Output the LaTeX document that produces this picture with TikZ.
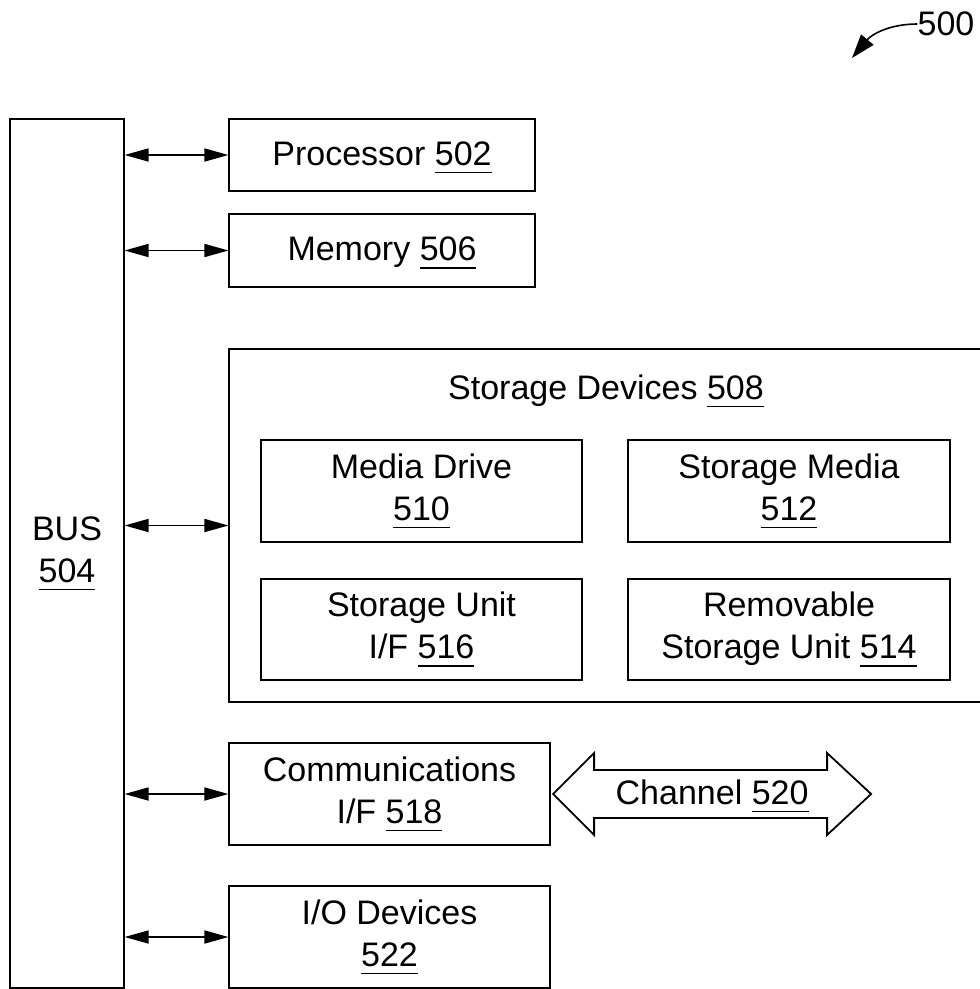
\documentclass[tikz,border=0pt]{standalone}
\usepackage{fontspec}
\setmainfont{Liberation Sans}
\usetikzlibrary{arrows.meta,calc}
\newcommand\und[1]{\setbox0\hbox{#1}\rlap{\rule[-8pt]{\wd0}{1.7pt}}\box0}
\newcommand\topstrut{\rule{0pt}{28.8pt}}
\tikzset{
  box/.style={draw, line width=2.2pt, inner sep=0pt, align=center, execute at begin node=\topstrut},
  txt/.style={inner sep=0pt, align=center, execute at begin node=\topstrut},
  numtxt/.style={inner sep=0pt},
  biarrow/.style={{Triangle[length=24pt,width=13pt]}-{Triangle[length=24pt,width=13pt]}, line width=1.7pt, shorten <=-0.5pt, shorten >=-0.5pt},
}
\begin{document}
\begin{tikzpicture}[x=1pt,y=-1pt,font=\fontsize{34}{42}\selectfont]
\path[use as bounding box] (0,0) rectangle (980,989);
\clip (0,0) rectangle (980,989);
% bus
\node[box, minimum width=114pt, minimum height=869pt] (bus) at (67,553.5) {BUS\\\und{504}};
% right-hand boxes
\node[box, minimum width=306pt, minimum height=72pt] (proc) at (382,155) {Processor \und{502}};
\node[box, minimum width=306pt, minimum height=73pt] (mem) at (382,250.5) {Memory \und{506}};
\node[draw, line width=2.2pt, inner sep=0pt, minimum width=771pt, minimum height=353pt] (stor) at (614.5,525.5) {};
\node[txt] (stortitle) at (606,389) {Storage Devices \und{508}};
\node[box, minimum width=321pt, minimum height=102pt] (media) at (421.5,491) {Media Drive\\\und{510}};
\node[box, minimum width=322pt, minimum height=102pt] (smedia) at (789,491) {Storage Media\\\und{512}};
\node[box, minimum width=321pt, minimum height=101pt] (sui) at (421.5,629.5) {Storage Unit\\I/F \und{516}};
\node[box, minimum width=322pt, minimum height=101pt] (rsu) at (789,629.5) {Removable\\Storage Unit \und{514}};
\node[box, minimum width=321pt, minimum height=102pt] (comm) at (389.5,794) {Communications\\I/F \und{518}};
\node[box, minimum width=321pt, minimum height=102pt] (io) at (389.5,937) {I/O Devices\\\und{522}};
% bus connectors
\draw[biarrow] (bus.east |- proc.west) -- (proc.west);
\draw[biarrow] (bus.east |- mem.west) -- (mem.west);
\draw[biarrow] (bus.east |- stor.west) -- (stor.west);
\draw[biarrow] (bus.east |- comm.west) -- (comm.west);
\draw[biarrow] (bus.east |- io.west) -- (io.west);
% channel
\coordinate (chl) at ($(comm.east)+(2,0)$);
\draw[line width=1.8pt, line join=miter]
  (chl) -- ++(41,-41) -- ++(0,17) -- ++(233,0) -- ++(0,-17) -- ++(44,41)
  -- ++(-44,41) -- ++(0,-17) -- ++(-233,0) -- ++(0,17) -- cycle;
\node[txt] (chan) at ($(chl)+(159,0)$) {Channel \und{520}};
% reference numeral
\node[numtxt] (ref) at (946,24) {500};
\coordinate (reftip) at (852,58);
\draw[-{Triangle[length=24pt,width=16pt]}, line width=1.6pt] (ref.west) .. controls (890,24) and (872,34) .. (reftip);
\end{tikzpicture}
\end{document}
